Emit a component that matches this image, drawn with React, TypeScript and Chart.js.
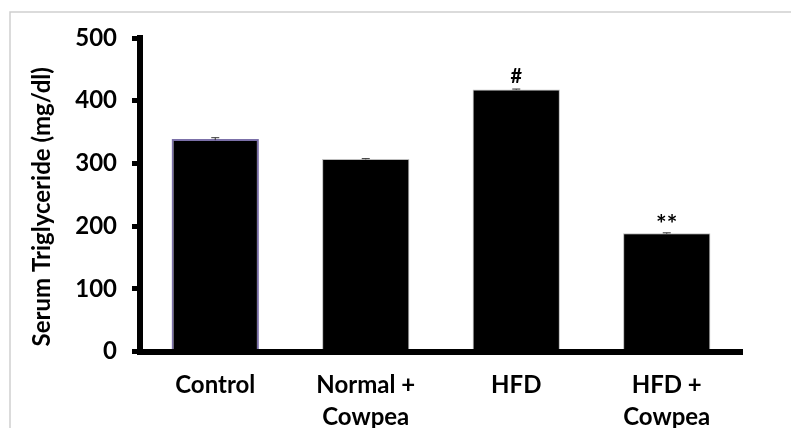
import React, { useEffect, useRef } from "react";
import { Chart, registerables } from "chart.js";

Chart.register(...registerables);

const categories: string[][] = [["Control"], ["Normal +", "Cowpea"], ["HFD"], ["HFD +", "Cowpea"]];
const values: number[] = [339, 307, 418, 188.5];
const errors: number[] = [2, 0.6, 0.6, 0.8];
const significance: string[] = ["", "", "#", "**"];
const yMin = 0;
const yMax = 500;
const yStep = 100;
const yTitle = "Serum Triglyceride (mg/dl)";

const FONT = "Lato, 'Open Sans', sans-serif";

const framePlugin = {
  id: "frame",
  beforeDraw(chart: any) {
    const { ctx, width, height } = chart;
    ctx.save();
    ctx.strokeStyle = "#cfcfcf";
    ctx.lineWidth = 1.5;
    ctx.beginPath();
    ctx.moveTo(10, height);
    ctx.lineTo(10, 12);
    ctx.lineTo(width, 12);
    ctx.stroke();
    ctx.restore();
  },
};

const extrasPlugin = {
  id: "extras",
  afterDatasetsDraw(chart: any) {
    const { ctx, chartArea } = chart;
    const y = chart.scales.y;
    const meta = chart.getDatasetMeta(0);
    ctx.save();
    meta.data.forEach((el: any, i: number) => {
      const x = el.x;
      const top = y.getPixelForValue(values[i] + errors[i]);
      const bot = y.getPixelForValue(values[i] - errors[i]);
      ctx.strokeStyle = "#333";
      ctx.lineWidth = 1;
      ctx.beginPath();
      ctx.moveTo(x, top);
      ctx.lineTo(x, bot);
      ctx.moveTo(x - 4, top);
      ctx.lineTo(x + 4, top);
      ctx.stroke();
      if (significance[i]) {
        ctx.fillStyle = "#000";
        const star = significance[i] === "**";
        ctx.font = `bold ${star ? 25 : 20}px ${FONT}`;
        ctx.textAlign = "center";
        ctx.textBaseline = "middle";
        ctx.fillText(significance[i], x, top - (star ? 8 : 12));
      }
    });
    // y axis title
    ctx.translate(42, (chartArea.top + chartArea.bottom) / 2 + 12);
    ctx.rotate(-Math.PI / 2);
    ctx.fillStyle = "#000";
    ctx.font = `bold 24px ${FONT}`;
    ctx.textAlign = "center";
    ctx.textBaseline = "middle";
    ctx.fillText(yTitle, 0, 0);
    ctx.restore();
  },
};

export default function App() {
  const ref = useRef<HTMLCanvasElement | null>(null);
  useEffect(() => {
    if (!ref.current) return;
    const chart = new Chart(ref.current, {
      type: "bar",
      data: {
        labels: categories,
        datasets: [
          {
            data: values,
            backgroundColor: "#000000",
            borderColor: ["#7b70a8", "#bdbdbd", "#bdbdbd", "#bdbdbd"],
            borderWidth: [2, 1, 1, 1],
            barPercentage: 0.58,
            categoryPercentage: 1,
          },
        ],
      },
      options: {
        animation: false,
        responsive: false,
        maintainAspectRatio: false,
        layout: { padding: { top: 38, right: 49, bottom: 0, left: 0 } },
        plugins: { legend: { display: false }, tooltip: { enabled: false } },
        scales: {
          x: {
            grid: { display: false, drawTicks: false },
            border: { display: true, color: "#000", width: 6 },
            ticks: {
              color: "#000",
              font: { family: FONT, size: 24, weight: "bold", lineHeight: 1.333 },
              padding: 18,
              maxRotation: 0,
              autoSkip: false,
            },
            afterFit(scale: any) {
              scale.height = 76.5;
            },
          },
          y: {
            min: yMin,
            max: yMax,
            grid: {
              drawOnChartArea: false,
              drawTicks: true,
              tickLength: 8,
              tickWidth: 5,
              tickColor: "#000",
              color: "#000",
              lineWidth: 5,
            },
            border: { display: true, color: "#000", width: 6 },
            ticks: {
              stepSize: yStep,
              color: "#000",
              font: { family: FONT, size: 24, weight: "bold" },
              padding: 15,
            },
            afterFit(scale: any) {
              scale.width = 140;
            },
          },
        },
      },
      plugins: [framePlugin, extrasPlugin],
    });
    return () => chart.destroy();
  }, []);
  return (
    <div style={{ position: "fixed", left: 0, top: 0, width: 791, height: 428, background: "#fff" }}>
      <canvas ref={ref} width={791} height={428} style={{ width: 791, height: 428 }} />
    </div>
  );
}
